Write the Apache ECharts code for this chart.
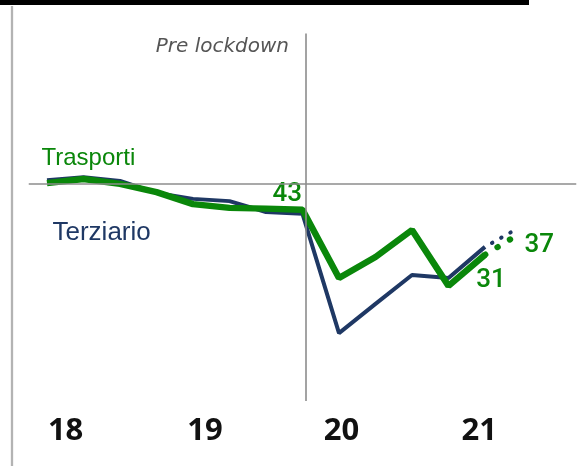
<!DOCTYPE html>
<html>
<head>
<meta charset="utf-8">
<script src="https://cdn.jsdelivr.net/npm/echarts@6/dist/echarts.min.js"></script>
<style>
  html, body { margin: 0; padding: 0; background: #fff; }
  #chart { width: 587px; height: 466px; }
</style>
</head>
<body>
<div id="chart"></div>
<script>
// trimestri (indice), valori
const quarters = [0, 1, 2, 3, 4, 5, 6, 7, 8, 9, 10, 11, 12];
const terziario = [50.9, 51.7, 50.7, 47.5, 45.9, 45.3, 42.4, 41.9, 10.1, 17.9, 25.6, 24.8, 33.1];
const trasporti = [50.1, 51.2, 49.9, 47.7, 44.5, 43.5, 43.3, 43, 24.8, 30.4, 37.6, 22.7, 31];
// proiezione (puntini)
const projQuarters = [12, 12.71];
const terziarioProj = [33.1, 37];
const trasportiProj = [31, 35.2];
// etichette anni
const yearTickPos = [0.51, 4.33, 8.07, 11.84];
const yearLabels = ['18', '19', '20', '21'];
const lockdownAt = 7.1;
const baseline = 50;

const NAVY = '#1f3864';
const GREEN = '#0a870a';

const pairs = (xs, ys) => ys.map((v, i) => [xs[i], v]);

const numLabel = (text, position, align) => ({
	show: true,
	formatter: text,
	position: position,
	align: align,
	verticalAlign: 'middle',
	color: GREEN,
	fontFamily: 'Roboto',
	fontWeight: 500,
	fontSize: 26,
});

const greenData = pairs(quarters, trasporti).map((p, i) => {
	if (i === 0) {
		return {
			value: p,
			label: { show: true, formatter: 'Trasporti', position: [-5, -24], align: 'left', verticalAlign: 'middle',
				color: GREEN, fontFamily: 'Liberation Sans', fontSize: 24 },
		};
	}
	if (i === 7) return { value: p, label: numLabel('43', [0, -15], 'right') };
	if (i === 12) return { value: p, label: numLabel('31', [6.5, 26], 'center') };
	return p;
});

const navyData = pairs(quarters, terziario).map((p, i) => {
	if (i === 0) {
		return {
			value: p,
			label: { show: true, formatter: 'Terziario', position: [6, 53], align: 'left', verticalAlign: 'middle',
				color: NAVY, fontFamily: 'Liberation Sans', fontSize: 26 },
		};
	}
	return p;
});

const greenProjData = pairs(projQuarters, trasportiProj).map((p, i) =>
	i === 1 ? { value: p, label: numLabel('37', [14, 7], 'left') } : p
);

const lineBase = {
	type: 'line',
	symbol: 'circle',
	symbolSize: 1,
	itemStyle: { color: 'rgba(0,0,0,0)' },
	emphasis: { disabled: true },
	silent: true,
	animation: false,
};

const option = {
	animation: false,
	grid: { left: 28.75, right: 10.75, top: 33.5, bottom: 65 },
	xAxis: {
		type: 'value',
		min: -0.5,
		max: 14.5,
		axisLine: { show: false },
		axisTick: { show: false },
		splitLine: { show: false },
		axisLabel: {
			customValues: yearTickPos,
			formatter: v => yearLabels[yearTickPos.indexOf(v)] || '',
			margin: 15,
			color: '#111',
			fontFamily: 'Noto Sans',
			fontWeight: 'bold',
			fontSize: 31,
		},
	},
	yAxis: { type: 'value', min: -8, max: 90, show: false },
	graphic: [
		{ type: 'rect', shape: { x: 0, y: 0, width: 529, height: 5 }, style: { fill: '#000' } },
		{ type: 'line', shape: { x1: 12, y1: 6, x2: 12, y2: 466 }, style: { stroke: '#b3b3b3', lineWidth: 2.3 } },
		{
			type: 'text', x: 289, y: 47,
			style: { text: 'Pre lockdown', align: 'right', verticalAlign: 'middle', fill: '#555',
				font: 'italic 20px "DejaVu Sans"' },
		},
	],
	series: [
		{
			...lineBase,
			name: 'Terziario',
			data: navyData,
			lineStyle: { color: NAVY, width: 4 },
			markLine: {
				silent: true,
				symbol: 'none',
				label: { show: false },
				lineStyle: { color: '#8c8c8c', width: 1.6, type: 'solid' },
				data: [{ xAxis: lockdownAt }, { yAxis: baseline }],
			},
		},
		{
			...lineBase,
			name: 'Terziario proiezione',
			data: pairs(projQuarters, terziarioProj),
			lineStyle: { color: NAVY, width: 4, type: [0.5, 10], dashOffset: 2.5, cap: 'round' },
		},
		{
			...lineBase,
			name: 'Trasporti',
			data: greenData,
			lineStyle: { color: GREEN, width: 6.5 },
		},
		{
			...lineBase,
			name: 'Trasporti proiezione',
			data: greenProjData,
			lineStyle: { color: GREEN, width: 6, type: [0.5, 14], dashOffset: 0, cap: 'round' },
		},
	],
};

const myChart = echarts.init(document.getElementById('chart'));
myChart.setOption(option);
</script>
</body>
</html>
